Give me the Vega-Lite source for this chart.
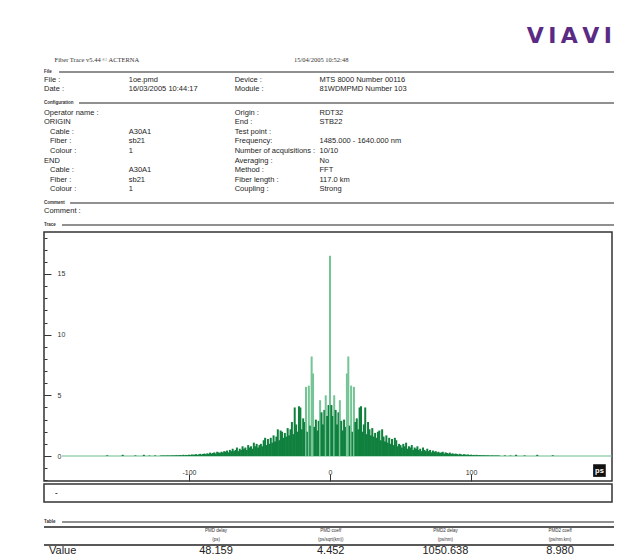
{
"$schema": "https://vega.github.io/schema/vega-lite/v6.json",
"padding": {"left": 42, "top": 0, "right": 0, "bottom": 0},
"background": "white",
"spacing": 0,
"config": {"view": {"stroke": null}, "font": "Liberation Sans"},
"vconcat": [
{
 "width": 570, "height": 66,
 "layer": [
  {"data": {"values": [{"text": "V\u2009I\u2009A\u2009V\u2009I", "col": 26.8, "row": 1}]},
   "mark": {"type": "text", "align": "right", "baseline": "middle", "font": "DejaVu Sans", "fontSize": 22, "fontWeight": "bold", "color": "#5a2a84"},
   "encoding": {
    "x": {"field": "col", "type": "quantitative", "scale": {"domain": [0, 26.9], "nice": false, "zero": false}, "axis": null},
    "y": {"field": "row", "type": "quantitative", "scale": {"domain": [-0.5, 2.25], "nice": false, "zero": false, "reverse": true}, "axis": null},
    "text": {"field": "text"}}},
  {"data": {"values": [{"text": "Fiber Trace v5.44  © ACTERNA", "col": 0.5, "row": 2}, {"text": "15/04/2005 10:52:48", "col": 11.8, "row": 2}]},
   "mark": {"type": "text", "align": "left", "baseline": "middle", "font": "Liberation Serif", "fontSize": 6.5, "color": "#333"},
   "encoding": {
    "x": {"field": "col", "type": "quantitative", "scale": {"domain": [0, 26.9], "nice": false, "zero": false}, "axis": null},
    "y": {"field": "row", "type": "quantitative", "scale": {"domain": [-0.5, 2.25], "nice": false, "zero": false, "reverse": true}, "axis": null},
    "text": {"field": "text"}}}
 ]
},
{
 "width": 570, "height": 30,
 "layer": [
  {"data": {"values": [{"text": "File", "col": 0, "row": 0}]},
   "mark": {"type": "text", "align": "left", "baseline": "middle", "fontSize": 4.5, "fontWeight": "bold", "color": "#333"},
   "encoding": {
    "x": {"field": "col", "type": "quantitative", "scale": {"domain": [0, 26.9], "nice": false, "zero": false}, "axis": null},
    "y": {"field": "row", "type": "quantitative", "scale": {"domain": [-0.706, 2.824], "nice": false, "zero": false, "reverse": true}, "axis": null},
    "text": {"field": "text"}}},
  {"data": {"values": [{"section": "File"}]},
   "mark": {"type": "rule", "color": "#222", "strokeWidth": 1.2},
   "encoding": {
    "x": {"datum": 0.71, "type": "quantitative", "scale": {"domain": [0, 26.9], "nice": false, "zero": false}, "axis": null},
    "x2": {"datum": 26.9},
    "y": {"datum": 0, "type": "quantitative", "scale": {"domain": [-0.706, 2.824], "nice": false, "zero": false, "reverse": true}, "axis": null}}},
  {"data": {"values": [
    {"text": "File :", "col": 0, "row": 1}, {"text": "1oe.pmd", "col": 4, "row": 1}, {"text": "Device :", "col": 9, "row": 1}, {"text": "MTS 8000 Number 00116", "col": 13, "row": 1},
    {"text": "Date :", "col": 0, "row": 2}, {"text": "16/03/2005 10:44:17", "col": 4, "row": 2}, {"text": "Module :", "col": 9, "row": 2}, {"text": "81WDMPMD Number  103", "col": 13, "row": 2}
   ]},
   "mark": {"type": "text", "align": "left", "baseline": "middle", "fontSize": 7.5, "color": "#1e1e1e"},
   "encoding": {
    "x": {"field": "col", "type": "quantitative", "scale": {"domain": [0, 26.9], "nice": false, "zero": false}, "axis": null},
    "y": {"field": "row", "type": "quantitative", "scale": {"domain": [-0.706, 2.824], "nice": false, "zero": false, "reverse": true}, "axis": null},
    "text": {"field": "text"}}}
 ]
},
{
 "width": 570, "height": 101,
 "layer": [
  {"data": {"values": [{"text": "Configuration", "col": 0, "row": 0}]},
   "mark": {"type": "text", "align": "left", "baseline": "middle", "fontSize": 4.5, "fontWeight": "bold", "color": "#333"},
   "encoding": {
    "x": {"field": "col", "type": "quantitative", "scale": {"domain": [0, 26.9], "nice": false, "zero": false}, "axis": null},
    "y": {"field": "row", "type": "quantitative", "scale": {"domain": [-0.729, 9.792], "nice": false, "zero": false, "reverse": true}, "axis": null},
    "text": {"field": "text"}}},
  {"data": {"values": [{"section": "Configuration"}]},
   "mark": {"type": "rule", "color": "#222", "strokeWidth": 1.2},
   "encoding": {
    "x": {"datum": 1.65, "type": "quantitative", "scale": {"domain": [0, 26.9], "nice": false, "zero": false}, "axis": null},
    "x2": {"datum": 26.9},
    "y": {"datum": 0, "type": "quantitative", "scale": {"domain": [-0.729, 9.792], "nice": false, "zero": false, "reverse": true}, "axis": null}}},
  {"data": {"values": [
    {"text": "Operator name :", "col": 0, "row": 1}, {"text": "Origin :", "col": 9, "row": 1}, {"text": "RDT32", "col": 13, "row": 1},
    {"text": "ORIGIN", "col": 0, "row": 2}, {"text": "End :", "col": 9, "row": 2}, {"text": "STB22", "col": 13, "row": 2},
    {"text": "A30A1", "col": 4, "row": 3}, {"text": "Test point :", "col": 9, "row": 3},
    {"text": "sb21", "col": 4, "row": 4}, {"text": "Frequency:", "col": 9, "row": 4}, {"text": "1485.000 - 1640.000 nm", "col": 13, "row": 4},
    {"text": "1", "col": 4, "row": 5}, {"text": "Number of acquisitions :", "col": 9, "row": 5}, {"text": "10/10", "col": 13, "row": 5},
    {"text": "END", "col": 0, "row": 6}, {"text": "Averaging :", "col": 9, "row": 6}, {"text": "No", "col": 13, "row": 6},
    {"text": "A30A1", "col": 4, "row": 7}, {"text": "Method :", "col": 9, "row": 7}, {"text": "FFT", "col": 13, "row": 7},
    {"text": "sb21", "col": 4, "row": 8}, {"text": "Fiber length :", "col": 9, "row": 8}, {"text": "117.0 km", "col": 13, "row": 8},
    {"text": "1", "col": 4, "row": 9}, {"text": "Coupling :", "col": 9, "row": 9}, {"text": "Strong", "col": 13, "row": 9}
   ]},
   "mark": {"type": "text", "align": "left", "baseline": "middle", "fontSize": 7.5, "color": "#1e1e1e"},
   "encoding": {
    "x": {"field": "col", "type": "quantitative", "scale": {"domain": [0, 26.9], "nice": false, "zero": false}, "axis": null},
    "y": {"field": "row", "type": "quantitative", "scale": {"domain": [-0.729, 9.792], "nice": false, "zero": false, "reverse": true}, "axis": null},
    "text": {"field": "text"}}},
  {"data": {"values": [
    {"text": "Cable :", "col": 0, "row": 3}, {"text": "Fiber :", "col": 0, "row": 4}, {"text": "Colour :", "col": 0, "row": 5},
    {"text": "Cable :", "col": 0, "row": 7}, {"text": "Fiber :", "col": 0, "row": 8}, {"text": "Colour :", "col": 0, "row": 9}
   ]},
   "mark": {"type": "text", "align": "left", "baseline": "middle", "fontSize": 7.5, "color": "#1e1e1e", "dx": 6},
   "encoding": {
    "x": {"field": "col", "type": "quantitative", "scale": {"domain": [0, 26.9], "nice": false, "zero": false}, "axis": null},
    "y": {"field": "row", "type": "quantitative", "scale": {"domain": [-0.729, 9.792], "nice": false, "zero": false, "reverse": true}, "axis": null},
    "text": {"field": "text"}}}
 ]
},
{
 "width": 570, "height": 21,
 "layer": [
  {"data": {"values": [{"text": "Comment", "col": 0, "row": 0}]},
   "mark": {"type": "text", "align": "left", "baseline": "middle", "fontSize": 4.5, "fontWeight": "bold", "color": "#333"},
   "encoding": {
    "x": {"field": "col", "type": "quantitative", "scale": {"domain": [0, 26.9], "nice": false, "zero": false}, "axis": null},
    "y": {"field": "row", "type": "quantitative", "scale": {"domain": [-0.75, 1.875], "nice": false, "zero": false, "reverse": true}, "axis": null},
    "text": {"field": "text"}}},
  {"data": {"values": [{"section": "Comment"}]},
   "mark": {"type": "rule", "color": "#222", "strokeWidth": 1.2},
   "encoding": {
    "x": {"datum": 1.23, "type": "quantitative", "scale": {"domain": [0, 26.9], "nice": false, "zero": false}, "axis": null},
    "x2": {"datum": 26.9},
    "y": {"datum": 0, "type": "quantitative", "scale": {"domain": [-0.75, 1.875], "nice": false, "zero": false, "reverse": true}, "axis": null}}},
  {"data": {"values": [{"text": "Comment :", "col": 0, "row": 1}]},
   "mark": {"type": "text", "align": "left", "baseline": "middle", "fontSize": 7.5, "color": "#1e1e1e"},
   "encoding": {
    "x": {"field": "col", "type": "quantitative", "scale": {"domain": [0, 26.9], "nice": false, "zero": false}, "axis": null},
    "y": {"field": "row", "type": "quantitative", "scale": {"domain": [-0.75, 1.875], "nice": false, "zero": false, "reverse": true}, "axis": null},
    "text": {"field": "text"}}}
 ]
},
{
 "width": 570, "height": 13,
 "layer": [
  {"data": {"values": [{"text": "Trace", "col": 0, "row": 0}]},
   "mark": {"type": "text", "align": "left", "baseline": "middle", "fontSize": 4.5, "fontWeight": "bold", "color": "#333"},
   "encoding": {
    "x": {"field": "col", "type": "quantitative", "scale": {"domain": [0, 26.9], "nice": false, "zero": false}, "axis": null},
    "y": {"field": "row", "type": "quantitative", "scale": {"domain": [-0.7, 0.6], "nice": false, "zero": false, "reverse": true}, "axis": null},
    "text": {"field": "text"}}},
  {"data": {"values": [{"section": "Trace"}]},
   "mark": {"type": "rule", "color": "#222", "strokeWidth": 1.2},
   "encoding": {
    "x": {"datum": 0.85, "type": "quantitative", "scale": {"domain": [0, 26.9], "nice": false, "zero": false}, "axis": null},
    "x2": {"datum": 26.9},
    "y": {"datum": 0, "type": "quantitative", "scale": {"domain": [-0.7, 0.6], "nice": false, "zero": false, "reverse": true}, "axis": null}}}
 ]
},
{
 "spacing": 0,
 "vconcat": [
  {
   "width": 568, "height": 249,
   "view": {"stroke": "#333", "strokeWidth": 1.5},
   "resolve": {"axis": {"x": "independent", "y": "independent"}},
   "layer": [
    {"data": {"values": [{"trace": "baseline"}]},
     "mark": {"type": "rule", "color": "#6dba8b", "strokeWidth": 1.2},
     "encoding": {
      "x": {"datum": -190, "type": "quantitative", "scale": {"domain": [-202.8, 200], "nice": false, "zero": false},
            "axis": {"orient": "bottom", "values": [-100, 0, 100], "tickSize": -7, "labelPadding": -2, "labelBaseline": "middle", "labelFontSize": 7, "labelColor": "#333", "tickColor": "#333", "domain": false, "grid": false, "title": null, "labelExpr": "datum.value + ''", "labelFlush": false, "minExtent": 0, "maxExtent": 0}},
      "x2": {"datum": 200},
      "y": {"datum": 0, "type": "quantitative", "scale": {"domain": [-2.06, 18.46], "nice": false, "zero": false},
            "axis": {"orient": "left", "values": [-2,-1,0,1,2,3,4,5,6,7,8,9,10,11,12,13,14,15,16,17,18], "tickSize": -3, "labels": false, "domain": false, "grid": false, "title": null, "tickColor": "#333", "minExtent": 0, "maxExtent": 0}}
     }},
    {"data": {"values": [
      {"t":-158,"a":0.06},{"t":-147,"a":0.1},{"t":-138,"a":0.05},{"t":-132,"a":0.1},{"t":-128,"a":0.04},{"t":-124,"a":0.05},
      {"t":-120,"a":0.04},{"t":-119,"a":0.03},{"t":-118,"a":0.05},{"t":-117,"a":0.03},{"t":-116,"a":0.04},{"t":-115,"a":0.05},{"t":-114,"a":0.03},{"t":-113,"a":0.05},{"t":-112,"a":0.04},{"t":-111,"a":0.06},{"t":-110,"a":0.04},{"t":-109,"a":0.07},{"t":-108,"a":0.05},{"t":-107,"a":0.06},{"t":-106,"a":0.08},{"t":-105,"a":0.05},{"t":-104,"a":0.1},{"t":-103,"a":0.06},{"t":-102,"a":0.09},{"t":-101,"a":0.07},
      {"t":-100,"a":0.11},{"t":-99,"a":0.08},{"t":-98,"a":0.13},{"t":-97,"a":0.1},{"t":-96,"a":0.12},{"t":-95,"a":0.15},{"t":-94,"a":0.1},{"t":-93,"a":0.14},{"t":-92,"a":0.18},{"t":-91,"a":0.12},{"t":-90,"a":0.17},{"t":-89,"a":0.2},{"t":-88,"a":0.15},{"t":-87,"a":0.22},{"t":-86,"a":0.18},{"t":-85,"a":0.28},{"t":-84,"a":0.2},{"t":-83,"a":0.25},{"t":-82,"a":0.3},{"t":-81,"a":0.2},
      {"t":-80,"a":0.35},{"t":-79,"a":0.3},{"t":-78,"a":0.25},{"t":-77,"a":0.35},{"t":-76,"a":0.3},{"t":-75,"a":0.4},{"t":-74,"a":0.35},{"t":-73,"a":0.45},{"t":-72,"a":0.3},{"t":-71,"a":0.5},{"t":-70,"a":0.4},{"t":-69,"a":0.6},{"t":-68,"a":0.4},{"t":-67,"a":0.5},{"t":-66,"a":0.7},{"t":-65,"a":0.4},{"t":-64,"a":0.6},{"t":-63,"a":0.5},{"t":-62,"a":0.8},{"t":-61,"a":0.6},
      {"t":-60,"a":0.7},{"t":-59,"a":0.5},{"t":-58,"a":0.9},{"t":-57,"a":0.7},{"t":-56,"a":0.8},{"t":-55,"a":0.6},{"t":-54,"a":1.1},{"t":-53,"a":0.8},{"t":-52,"a":1.0},{"t":-51,"a":0.7},{"t":-50,"a":0.9},{"t":-49,"a":1.0},{"t":-48,"a":0.8},{"t":-47,"a":1.3},{"t":-46,"a":1.5},{"t":-45,"a":0.9},{"t":-44,"a":1.4},{"t":-43,"a":1.0},{"t":-42,"a":1.5},{"t":-41,"a":1.1},
      {"t":-40,"a":1.7},{"t":-39,"a":1.2},{"t":-38,"a":1.6},{"t":-37,"a":2.2},{"t":-36,"a":1.3},{"t":-35,"a":2.1},{"t":-34,"a":2.0},{"t":-33,"a":1.5},{"t":-32,"a":1.9},{"t":-31,"a":1.6},{"t":-30,"a":2.3},{"t":-29,"a":1.7},{"t":-28,"a":2.2},{"t":-27,"a":2.8},{"t":-26,"a":1.8},{"t":-25,"a":4.0},{"t":-24,"a":2.6},{"t":-23,"a":2.0},{"t":-22,"a":4.1},{"t":-21,"a":4.0},
      {"t":-20,"a":2.2},{"t":-19,"a":3.1},{"t":-18,"a":2.8},{"t":-17,"a":5.7},{"t":-16,"a":2.0},{"t":-15,"a":5.8},{"t":-14,"a":2.5},{"t":-13,"a":8.2},{"t":-12,"a":6.8},{"t":-11,"a":2.4},{"t":-10,"a":3.0},{"t":-9,"a":2.1},{"t":-8,"a":2.9},{"t":-7,"a":4.6},{"t":-6,"a":3.6},{"t":-5,"a":2.6},{"t":-4,"a":3.8},{"t":-3,"a":5.0},{"t":-2,"a":3.3},{"t":-1,"a":4.2},
      {"t":0,"a":16.5},
      {"t":1,"a":4.2},{"t":2,"a":3.3},{"t":3,"a":5.0},{"t":4,"a":3.8},{"t":5,"a":2.6},{"t":6,"a":3.6},{"t":7,"a":4.6},{"t":8,"a":2.9},{"t":9,"a":2.1},{"t":10,"a":3.0},{"t":11,"a":2.4},{"t":12,"a":6.8},{"t":13,"a":8.2},{"t":14,"a":2.5},{"t":15,"a":5.8},{"t":16,"a":2.0},{"t":17,"a":5.7},{"t":18,"a":2.8},{"t":19,"a":3.1},{"t":20,"a":2.2},
      {"t":21,"a":4.0},{"t":22,"a":4.1},{"t":23,"a":2.0},{"t":24,"a":2.6},{"t":25,"a":4.0},{"t":26,"a":1.8},{"t":27,"a":2.8},{"t":28,"a":2.2},{"t":29,"a":1.7},{"t":30,"a":2.3},{"t":31,"a":1.6},{"t":32,"a":1.9},{"t":33,"a":1.5},{"t":34,"a":2.0},{"t":35,"a":2.1},{"t":36,"a":1.3},{"t":37,"a":2.2},{"t":38,"a":1.6},{"t":39,"a":1.2},{"t":40,"a":1.7},
      {"t":41,"a":1.1},{"t":42,"a":1.5},{"t":43,"a":1.0},{"t":44,"a":1.4},{"t":45,"a":0.9},{"t":46,"a":1.5},{"t":47,"a":1.3},{"t":48,"a":0.8},{"t":49,"a":1.0},{"t":50,"a":0.9},{"t":51,"a":0.7},{"t":52,"a":1.0},{"t":53,"a":0.8},{"t":54,"a":1.1},{"t":55,"a":0.6},{"t":56,"a":0.8},{"t":57,"a":0.7},{"t":58,"a":0.9},{"t":59,"a":0.5},{"t":60,"a":0.7},
      {"t":61,"a":0.6},{"t":62,"a":0.8},{"t":63,"a":0.5},{"t":64,"a":0.6},{"t":65,"a":0.4},{"t":66,"a":0.7},{"t":67,"a":0.5},{"t":68,"a":0.4},{"t":69,"a":0.6},{"t":70,"a":0.4},{"t":71,"a":0.5},{"t":72,"a":0.3},{"t":73,"a":0.45},{"t":74,"a":0.35},{"t":75,"a":0.4},{"t":76,"a":0.3},{"t":77,"a":0.35},{"t":78,"a":0.25},{"t":79,"a":0.3},{"t":80,"a":0.35},
      {"t":81,"a":0.2},{"t":82,"a":0.3},{"t":83,"a":0.25},{"t":84,"a":0.2},{"t":85,"a":0.28},{"t":86,"a":0.18},{"t":87,"a":0.22},{"t":88,"a":0.15},{"t":89,"a":0.2},{"t":90,"a":0.17},{"t":91,"a":0.12},{"t":92,"a":0.18},{"t":93,"a":0.14},{"t":94,"a":0.1},{"t":95,"a":0.15},{"t":96,"a":0.12},{"t":97,"a":0.1},{"t":98,"a":0.13},{"t":99,"a":0.08},{"t":100,"a":0.11},
      {"t":101,"a":0.07},{"t":102,"a":0.09},{"t":103,"a":0.06},{"t":104,"a":0.1},{"t":105,"a":0.05},{"t":106,"a":0.08},{"t":107,"a":0.06},{"t":108,"a":0.05},{"t":109,"a":0.07},{"t":110,"a":0.04},{"t":111,"a":0.06},{"t":112,"a":0.04},{"t":113,"a":0.05},{"t":114,"a":0.03},{"t":115,"a":0.05},{"t":116,"a":0.04},{"t":117,"a":0.03},{"t":118,"a":0.05},{"t":119,"a":0.03},{"t":120,"a":0.04},
      {"t":124,"a":0.05},{"t":128,"a":0.04},{"t":132,"a":0.1},{"t":138,"a":0.05},{"t":147,"a":0.1},{"t":158,"a":0.06}
     ]},
     "mark": {"type": "rule", "strokeWidth": 2.0},
     "encoding": {
      "x": {"field": "t", "type": "quantitative", "scale": {"domain": [-202.8, 200], "nice": false, "zero": false}, "axis": null},
      "y": {"field": "a", "type": "quantitative", "scale": {"domain": [-2.06, 18.46], "nice": false, "zero": false},
            "axis": {"orient": "left", "values": [0, 5, 10, 15], "tickSize": -7, "labelPadding": -6, "labelAlign": "left", "labelBaseline": "middle", "labelFontSize": 7, "labelColor": "#333", "tickColor": "#333", "domain": false, "grid": false, "title": null, "minExtent": 0, "maxExtent": 0}},
      "y2": {"datum": 0},
      "color": {"condition": {"test": "datum.a > 4.4", "value": "#74c496"}, "value": "#10803e"}
     }},
    {"data": {"values": [{"unit": "ps"}]},
     "mark": {"type": "point", "shape": "square", "filled": true, "size": 160, "color": "#111", "opacity": 1},
     "encoding": {
      "x": {"datum": 191.1, "type": "quantitative", "axis": null},
      "y": {"datum": -1.2, "type": "quantitative", "axis": null}
     }},
    {"data": {"values": [{"unit": "ps"}]},
     "mark": {"type": "text", "color": "white", "fontSize": 7.5, "fontWeight": "bold", "baseline": "middle", "align": "center"},
     "encoding": {
      "x": {"datum": 191.1, "type": "quantitative", "axis": null},
      "y": {"datum": -1.2, "type": "quantitative", "axis": null},
      "text": {"field": "unit"}
     }}
   ]
  },
  {
   "width": 568, "height": 18,
   "view": {"stroke": "#333", "strokeWidth": 1.5},
   "data": {"values": [{"comment": "-", "col": 0, "row": 0}]},
   "mark": {"type": "text", "align": "left", "baseline": "middle", "fontSize": 8, "fontWeight": "bold", "color": "#333"},
   "encoding": {
    "x": {"field": "col", "type": "quantitative", "scale": {"domain": [-1, 50.6], "nice": false, "zero": false}, "axis": null},
    "y": {"field": "row", "type": "quantitative", "scale": {"domain": [-1, 1], "nice": false, "zero": false}, "axis": null},
    "text": {"field": "comment"}
   }
  }
 ]
},
{
 "width": 570, "height": 59,
 "layer": [
  {"data": {"values": [{"text": "Table", "col": 0, "row": 0}]},
   "mark": {"type": "text", "align": "left", "baseline": "middle", "fontSize": 4.5, "fontWeight": "bold", "color": "#333"},
   "encoding": {
    "x": {"field": "col", "type": "quantitative", "scale": {"domain": [0, 19.88], "nice": false, "zero": false}, "axis": null},
    "y": {"field": "row", "type": "quantitative", "scale": {"domain": [-2.111, 4.444], "nice": false, "zero": false, "reverse": true}, "axis": null},
    "text": {"field": "text"}}},
  {"data": {"values": [{"section": "Table"}]},
   "mark": {"type": "rule", "color": "#222", "strokeWidth": 1.2},
   "encoding": {
    "x": {"datum": 0.63, "type": "quantitative", "scale": {"domain": [0, 19.88], "nice": false, "zero": false}, "axis": null},
    "x2": {"datum": 19.88},
    "y": {"datum": 0, "type": "quantitative", "scale": {"domain": [-2.111, 4.444], "nice": false, "zero": false, "reverse": true}, "axis": null}}},
  {"data": {"values": [{"border": "top"}]},
   "mark": {"type": "rule", "color": "#222", "strokeWidth": 1.5},
   "encoding": {
    "x": {"datum": 0, "type": "quantitative", "scale": {"domain": [0, 19.88], "nice": false, "zero": false}, "axis": null},
    "x2": {"datum": 19.88},
    "y": {"datum": 0.556, "type": "quantitative", "scale": {"domain": [-2.111, 4.444], "nice": false, "zero": false, "reverse": true}, "axis": null}}},
  {"data": {"values": [{"border": "header"}]},
   "mark": {"type": "rule", "color": "#222", "strokeWidth": 1.5},
   "encoding": {
    "x": {"datum": 0, "type": "quantitative", "scale": {"domain": [0, 19.88], "nice": false, "zero": false}, "axis": null},
    "x2": {"datum": 19.88},
    "y": {"datum": 2.556, "type": "quantitative", "scale": {"domain": [-2.111, 4.444], "nice": false, "zero": false, "reverse": true}, "axis": null}}},
  {"data": {"values": [
    {"text": "PMD delay", "col": 6, "row": 1}, {"text": "(ps)", "col": 6, "row": 2},
    {"text": "PMD coeff", "col": 10, "row": 1}, {"text": "(ps/sqrt(km))", "col": 10, "row": 2},
    {"text": "PMD2 delay", "col": 14, "row": 1}, {"text": "(ps/nm)", "col": 14, "row": 2},
    {"text": "PMD2 coeff", "col": 18, "row": 1}, {"text": "(ps/nm.km)", "col": 18, "row": 2}
   ]},
   "mark": {"type": "text", "align": "center", "baseline": "middle", "fontSize": 4.5, "color": "#333"},
   "encoding": {
    "x": {"field": "col", "type": "quantitative", "scale": {"domain": [0, 19.88], "nice": false, "zero": false}, "axis": null},
    "y": {"field": "row", "type": "quantitative", "scale": {"domain": [-2.111, 4.444], "nice": false, "zero": false, "reverse": true}, "axis": null},
    "text": {"field": "text"}}},
  {"data": {"values": [{"text": "Value", "col": 0, "row": 3}]},
   "mark": {"type": "text", "align": "left", "baseline": "middle", "fontSize": 11, "color": "#222", "dx": 5, "dy": 2},
   "encoding": {
    "x": {"field": "col", "type": "quantitative", "scale": {"domain": [0, 19.88], "nice": false, "zero": false}, "axis": null},
    "y": {"field": "row", "type": "quantitative", "scale": {"domain": [-2.111, 4.444], "nice": false, "zero": false, "reverse": true}, "axis": null},
    "text": {"field": "text"}}},
  {"data": {"values": [
    {"measure": "PMD delay", "value": 48.159, "col": 6, "row": 3},
    {"measure": "PMD coeff", "value": 4.452, "col": 10, "row": 3},
    {"measure": "PMD2 delay", "value": 1050.638, "col": 14, "row": 3},
    {"measure": "PMD2 coeff", "value": 8.980, "col": 18, "row": 3}
   ]},
   "mark": {"type": "text", "align": "center", "baseline": "middle", "fontSize": 11, "color": "#222", "dy": 2},
   "encoding": {
    "x": {"field": "col", "type": "quantitative", "scale": {"domain": [0, 19.88], "nice": false, "zero": false}, "axis": null},
    "y": {"field": "row", "type": "quantitative", "scale": {"domain": [-2.111, 4.444], "nice": false, "zero": false, "reverse": true}, "axis": null},
    "text": {"field": "value", "type": "quantitative", "format": ".3f"}}}
 ]
}
]
}
